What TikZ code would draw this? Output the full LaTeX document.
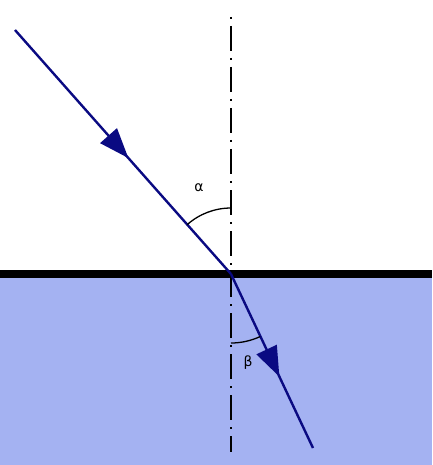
\documentclass[tikz,border=0pt]{standalone}
\usepackage{fontspec}
\setmainfont{DejaVu Sans}
\usetikzlibrary{arrows.meta,decorations.markings}
\definecolor{ray}{RGB}{10,10,130}
\definecolor{water}{RGB}{164,178,242}
\tikzset{
  raypath/.style={draw=ray, line width=2.4pt},
  midarrow/.style={postaction={decorate},decoration={markings,
     mark=at position #1 with {\arrow[ray]{Triangle[length=30pt,width=22pt]}}}},
  normal/.style={draw=black, line width=2pt, dash pattern=on 2pt off 7pt on 25pt off 7pt},
  anglearc/.style={draw=black, line width=1.3pt},
  lbl/.style={font=\fontsize{14}{16}\selectfont, text=black, inner sep=0pt}
}
\begin{document}
\begin{tikzpicture}[x=1pt,y=-1pt]
\useasboundingbox (0,0) rectangle (432,465);
\fill[water] (0,274) rectangle (432,465);
\coordinate (O) at (231,274);
\coordinate (S) at (15,30);
\coordinate (E) at (313,448);
\coordinate (Ntop) at (231,17);
\coordinate (Nbot) at (231,452);
\draw[normal] (Ntop) -- (Nbot);
\draw[line width=8pt] (0,274) -- (432,274);
\draw[raypath, midarrow=0.525] (S) -- (O);
\draw[raypath, midarrow=0.59] (O) -- (E);
\draw[anglearc] (O) ++(-90:66) arc[start angle=-90, end angle=-131.6, radius=66];
\draw[anglearc] (O) ++(90:69) arc[start angle=90, end angle=65, radius=69];
\node[lbl] (alpha) at (199,188) {α};
\node[lbl] (beta) at (248,363) {β};
\end{tikzpicture}
\end{document}
